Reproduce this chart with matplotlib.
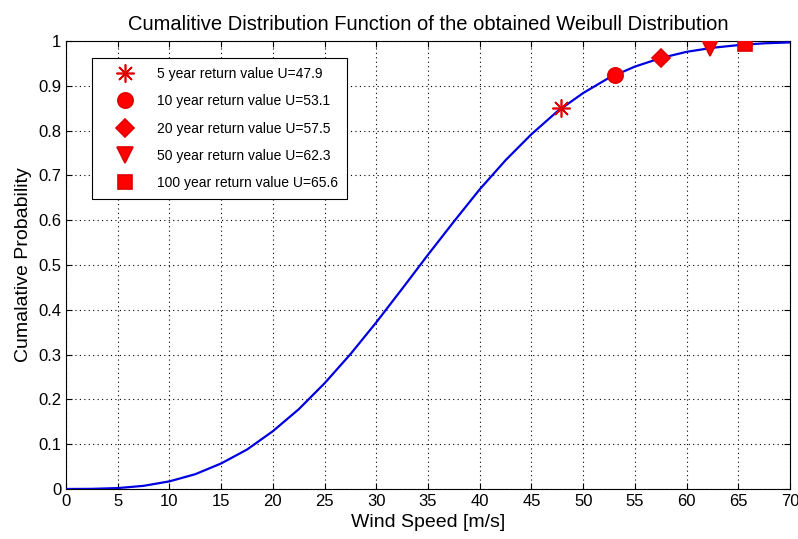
import matplotlib
matplotlib.use('Agg')
import matplotlib.pyplot as plt
import matplotlib.ticker as ticker

plt.rcParams.update({
    'font.family': ['Liberation Sans', 'DejaVu Sans'],
    'font.size': 11,
    'xtick.direction': 'in',
    'ytick.direction': 'in',
    'xtick.top': True,
    'ytick.right': True,
})

# curve
wind = [0, 2.5, 5, 7.5, 10, 12.5, 15, 17.5, 20, 22.5, 25, 27.5, 30, 32.5, 35,
        37.5, 40, 42.5, 45, 47.5, 50, 52.5, 55, 57.5, 60, 62.5, 65, 67.5, 70]
cdf = [0.0, 0.0003, 0.002, 0.007, 0.017, 0.033, 0.057, 0.088, 0.129, 0.178,
       0.236, 0.301, 0.372, 0.447, 0.523, 0.597, 0.669, 0.734, 0.792, 0.843,
       0.884, 0.918, 0.943, 0.962, 0.976, 0.985, 0.991, 0.995, 0.997]

# return values
periods = [5, 10, 20, 50, 100]
ret_u = [47.9, 53.1, 57.5, 62.3, 65.6]
ret_p = [0.85, 0.925, 0.962, 0.985, 0.993]
markers = [(8, 2, 0), 'o', 'D', 'v', 's']
msizes = [13, 11, 9, 11, 10]

fig = plt.figure(figsize=(7.98, 5.39), dpi=100)
ax = fig.add_axes([0.0827, 0.0928, 0.9073, 0.831])

ax.plot(wind, cdf, color='#0000e0', linewidth=1.6, zorder=3)

for T, u, p, m, s in zip(periods, ret_u, ret_p, markers, msizes):
    ax.plot([u], [p], linestyle='none', marker=m, markersize=s,
            color='#ff0000', markeredgecolor='#e00000', markeredgewidth=1.2,
            label=f'{T} year return value U={u}', zorder=4)

ax.set_xlim(0, 70)
ax.set_ylim(0, 1)
ax.set_xticks(range(0, 71, 5))
ax.set_yticks([i / 10 for i in range(11)])
ax.yaxis.set_major_formatter(ticker.FormatStrFormatter('%g'))
ax.tick_params(labelsize=12, length=4)

ax.grid(True, linestyle=(0, (1, 3)), color='black', linewidth=0.8)

ax.set_title('Cumalitive Distribution Function of the obtained Weibull Distribution',
             fontsize=14.5, pad=8)
ax.set_xlabel('Wind Speed [m/s]', fontsize=14, labelpad=4)
ax.set_ylabel('Cumalative Probability', fontsize=14, labelpad=4)

leg = ax.legend(loc='upper left', bbox_to_anchor=(0.036, 0.962), borderaxespad=0,
                fancybox=False, framealpha=1, edgecolor='black', fontsize=10,
                handletextpad=0.5, borderpad=0.65, labelspacing=0.95,
                handlelength=3.5)
leg.get_frame().set_linewidth(0.8)

fig.savefig('out.png', dpi=100)
